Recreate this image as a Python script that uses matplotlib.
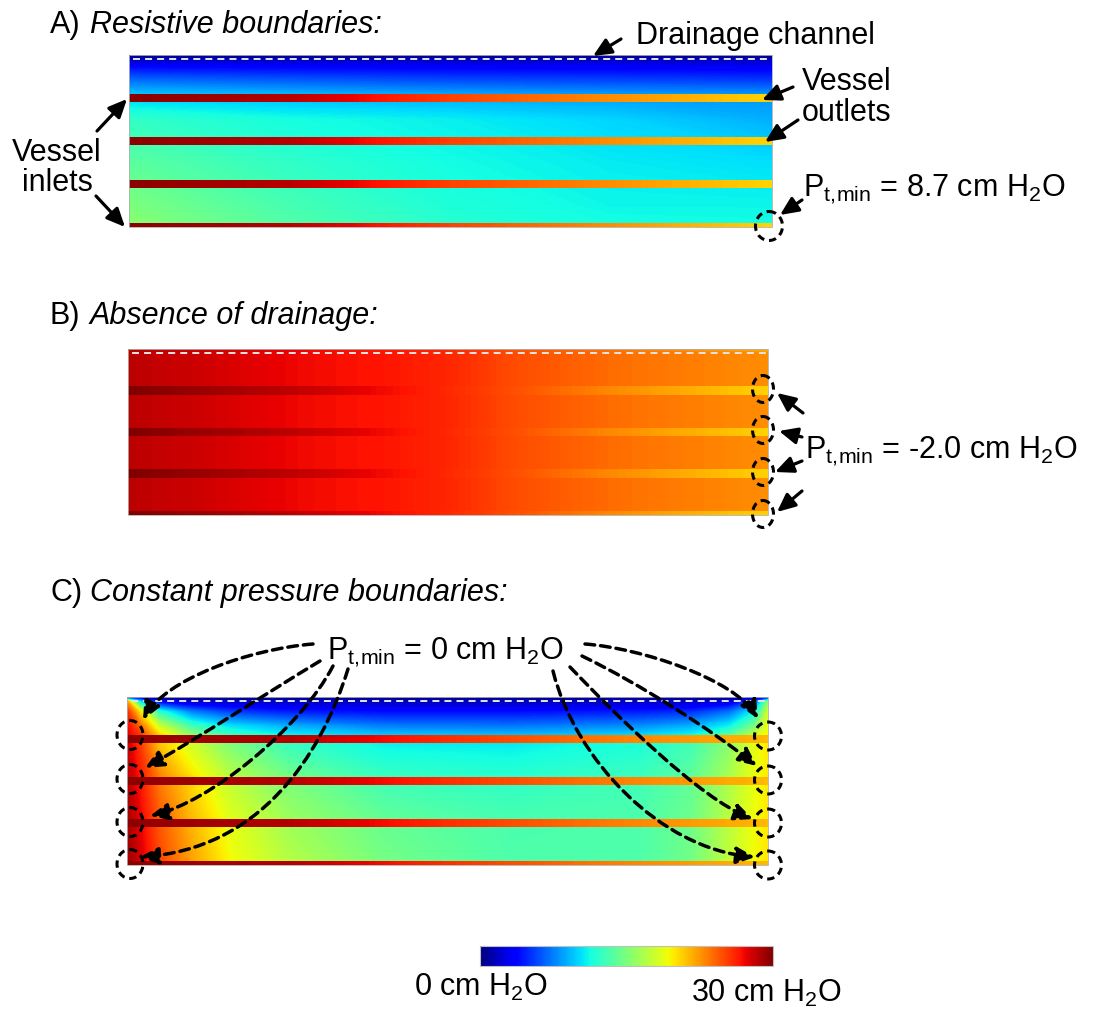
import numpy as np
import matplotlib
matplotlib.use('Agg')
import matplotlib.pyplot as plt
from matplotlib.patches import Ellipse, FancyArrowPatch, Rectangle
from matplotlib.path import Path
from matplotlib.colors import Normalize
import matplotlib.colorbar as mcolorbar

plt.rcParams['font.family'] = ['Liberation Sans', 'DejaVu Sans']
plt.rcParams['mathtext.fontset'] = 'custom'
plt.rcParams['mathtext.rm'] = 'Liberation Sans'
plt.rcParams['mathtext.it'] = 'Liberation Sans:italic'
plt.rcParams['mathtext.bf'] = 'Liberation Sans:bold'

# ------------------------------------------------------------------ data
PANEL_LETTERS = ['A)', 'B)', 'C)']
PANEL_TITLES = ['Resistive boundaries:', 'Absence of drainage:', 'Constant pressure boundaries:']
P_MIN_VALUES = ['8.7', '-2.0', '0']
CBAR_MIN, CBAR_MAX = 0, 30
CBAR_LABELS = ['0 cm H$_2$O', '30 cm H$_2$O']

VESSEL_DEPTHS = [1, 2, 3, 4]          # vessel centre depth (in vessel spacings)
VESSEL_X = [0, 0.25, 0.5, 0.75, 1.0]  # position along vessel (inlet -> outlet)
VESSEL_A = [29.7, 28.5, 25.2, 22.8, 20.5]
VESSEL_B = [30.0, 28.4, 26.0, 23.0, 20.6]
VESSEL_C = [29.6, 28.6, 25.8, 23.4, 21.4]

# tissue pressure (cm H2O) on coarse grids: rows = depth, cols = length
A_X = [0, 0.25, 0.5, 0.75, 1.0]
A_DEPTH = [0, 0.1, 0.3, 0.6, 0.9, 1.5, 2.5, 3.5, 4.0]
A_TISSUE = [
    [0.3, 0.3, 0.3, 0.3, 0.3],
    [1.5, 1.5, 1.5, 1.5, 1.5],
    [4.0, 3.8, 3.6, 3.5, 3.4],
    [7.0, 6.5, 6.0, 5.8, 5.5],
    [9.5, 9.0, 8.5, 8.2, 8.0],
    [12.3, 11.3, 10.8, 10.0, 8.9],
    [13.8, 12.2, 11.2, 10.7, 10.3],
    [15.0, 13.0, 11.6, 11.0, 11.0],
    [15.5, 13.5, 12.0, 11.3, 11.2],
]

B_X = [0, 0.1, 0.2, 0.3, 0.4, 0.5, 0.6, 0.7, 0.8, 0.9, 1.0]
B_DEPTH = [0, 0.1, 4.0]
B_TISSUE = [
    [28.6, 28.2, 27.6, 27.0, 26.6, 26.0, 24.6, 23.8, 22.9, 22.0, 21.0],
    [28.4, 28.0, 27.4, 26.9, 26.6, 26.1, 24.9, 24.2, 23.6, 23.2, 22.8],
    [28.4, 28.0, 27.4, 26.9, 26.6, 26.1, 24.9, 24.2, 23.6, 23.2, 22.8],
]

C_X = [0, 0.02, 0.05, 0.1, 0.16, 0.25, 0.4, 0.6, 0.8, 0.88, 0.94, 0.98, 1.0]
C_DEPTH = [0, 0.1, 0.35, 0.7, 0.9, 1.1, 2.0, 3.0, 4.0]
C_TISSUE = [
    [0.3, 0.3, 0.3, 0.3, 0.3, 0.3, 0.3, 0.3, 0.3, 0.3, 0.3, 0.3, 0.3],
    [22, 10, 3, 1.5, 1.5, 1.5, 1.3, 1.3, 1.5, 1.5, 2, 6, 15],
    [26, 20, 12, 7.5, 5.5, 4.5, 4.0, 4.0, 4.5, 5.0, 7.0, 11, 18],
    [27, 24, 18, 13, 10.5, 9.0, 7.5, 7.3, 8.0, 9.0, 11, 15, 19],
    [27.5, 25.5, 20.5, 15.5, 12.5, 10.8, 9.5, 9.2, 10, 11, 13.5, 17.5, 19.5],
    [28, 25.5, 21, 18, 15, 12.5, 10.8, 10.6, 11.5, 12.8, 15.5, 18.8, 19.8],
    [28.6, 26.6, 23.4, 20.4, 17.5, 15.0, 12.8, 12.2, 12.8, 14.0, 16.8, 19.0, 19.8],
    [29, 27.3, 24.5, 21.5, 18.8, 16.3, 14.2, 13.2, 13.3, 14.5, 17.3, 19.2, 19.9],
    [29.2, 27.8, 25.2, 22.3, 19.4, 17.2, 14.8, 13.3, 13.3, 14.6, 17.5, 19.3, 19.9],
]

# ------------------------------------------------------------------ layout
W, H = 1106, 1012
fig = plt.figure(figsize=(W / 100, H / 100), dpi=100)
CMAP = 'jet'
LEVELS = np.linspace(CBAR_MIN, CBAR_MAX, 1201)
VESSEL_HALF = 0.1
DASH_DEPTH = 0.1
FS = 22


def px_axes(x0, y0, x1, y1, **kw):
    return fig.add_axes([x0 / W, 1 - y1 / H, (x1 - x0) / W, (y1 - y0) / H], **kw)


def field(ax, X, Y, Z):
    ax.contourf(X, Y, Z, levels=LEVELS, cmap=CMAP, vmin=CBAR_MIN, vmax=CBAR_MAX,
                extend='both', antialiased=False)


def draw_field(ax, xk, dk, tissue, vessel):
    X, Y = np.meshgrid(xk, dk)
    field(ax, X, Y, np.array(tissue, float))
    for d in VESSEL_DEPTHS:
        VX, VY = np.meshgrid(VESSEL_X, [d - VESSEL_HALF, d + VESSEL_HALF])
        field(ax, VX, VY, np.vstack([vessel, vessel]).astype(float))
    ax.plot([0.006, 1.0], [DASH_DEPTH, DASH_DEPTH], color='#e4e4e4', lw=1.4,
            ls=(0, (3.6, 2.6)))
    ax.set_xlim(0, 1)
    ax.set_ylim(4, 0)
    ax.axis('off')
    ax.add_patch(Rectangle((0, 0), 1, 4, fill=False, ec='#b0b0b0', lw=0.6,
                           transform=ax.transData, clip_on=False))


axA = px_axes(129, 56, 772, 228)
draw_field(axA, A_X, A_DEPTH, A_TISSUE, VESSEL_A)
axB = px_axes(128, 350, 768, 516)
draw_field(axB, B_X, B_DEPTH, B_TISSUE, VESSEL_B)
axC = px_axes(127, 698, 768, 866)
draw_field(axC, C_X, C_DEPTH, C_TISSUE, VESSEL_C)

cax = px_axes(480, 947, 773, 967)
cb = mcolorbar.ColorbarBase(cax, cmap=CMAP, norm=Normalize(CBAR_MIN, CBAR_MAX),
                            orientation='horizontal')
cb.set_ticks([])
cb.outline.set_edgecolor('#c0c0c0')
cb.outline.set_linewidth(0.8)

# overlay for annotations (pixel coordinates, y downwards)
ax = fig.add_axes([0, 0, 1, 1], zorder=5)
ax.set_xlim(0, W)
ax.set_ylim(H, 0)
ax.axis('off')
ax.patch.set_alpha(0)

# titles
for letter, title, yb in zip(PANEL_LETTERS, PANEL_TITLES, [33, 324, 601]):
    ax.text(50, yb, letter, fontsize=FS, va='baseline', ha='left')
    ax.text(90, yb, title, fontsize=FS, va='baseline', ha='left', style='italic')

HEAD = '-|>,head_length=0.55,head_width=0.25'


def arrow(tail, tip):
    ax.add_patch(FancyArrowPatch(tail, tip, arrowstyle=HEAD, mutation_scale=20,
                                 lw=2.3, color='black', shrinkA=0, shrinkB=0))


def circle(cx, cy, rx=12.5, ry=14):
    ax.add_patch(Ellipse((cx, cy), 2 * rx, 2 * ry, fill=False, ec='black', lw=2.2,
                         ls=(0, (2.4, 1.6))))


def curve(p0, c1, c2, p3):
    path = Path([p0, c1, c2, p3], [Path.MOVETO, Path.CURVE4, Path.CURVE4, Path.CURVE4])
    ax.add_patch(FancyArrowPatch(path=path, arrowstyle=HEAD, mutation_scale=20, lw=2.5,
                                 color='black', ls=(0, (2.8, 1.7))))


def pmin_text(x, yb, val):
    ax.text(x, yb, r'P$_{\mathrm{t,\!min}}$ = ' + val + r' cm H$_2$O', fontsize=FS,
            va='baseline', ha='left')


# Panel A annotations
ax.text(636, 44, 'Drainage channel', fontsize=FS, va='baseline', ha='left')
arrow((621, 40), (593, 57))
ax.text(802, 90, 'Vessel', fontsize=FS, va='baseline', ha='left')
ax.text(802, 121, 'outlets', fontsize=FS, va='baseline', ha='left')
arrow((793, 88), (762, 101))
arrow((798, 121), (765, 143))
ax.text(57, 161, 'Vessel', fontsize=FS, va='baseline', ha='center')
ax.text(57, 191, 'inlets', fontsize=FS, va='baseline', ha='center')
arrow((97, 132), (127, 100))
arrow((96, 197), (125, 228))
pmin_text(803, 196, P_MIN_VALUES[0])
circle(769, 227, 13.5, 14.5)
arrow((802, 201), (780, 216))

# Panel B annotations
pmin_text(805, 458, P_MIN_VALUES[1])
for cy in [390, 431, 473, 515]:
    circle(763, cy, 10.5, 13.5)
arrow((803, 414), (777, 394))
arrow((802, 438), (779, 432))
arrow((802, 462), (775, 473))
arrow((802, 492), (777, 513))

# Panel C annotations
pmin_text(327, 659, P_MIN_VALUES[2])
for cy in [736, 780, 823, 865]:
    circle(130, cy, 13, 14.5)
    circle(768, cy + 1, 13.5, 14)
curve((313, 645), (250, 650), (165, 680), (143, 721))
curve((320, 662), (265, 695), (200, 738), (145, 769))
curve((333, 667), (300, 730), (210, 803), (150, 817))
curve((348, 670), (320, 760), (258, 850), (140, 858))
curve((585, 645), (640, 649), (735, 680), (758, 720))
curve((582, 657), (640, 685), (710, 730), (757, 767))
curve((570, 668), (615, 715), (700, 800), (753, 820))
curve((553, 672), (575, 760), (660, 850), (755, 858))

# colorbar labels
ax.text(481, 996, CBAR_LABELS[0], fontsize=FS, va='baseline', ha='center')
ax.text(766, 1002, CBAR_LABELS[1], fontsize=FS, va='baseline', ha='center')

fig.savefig('out.png', dpi=100)
